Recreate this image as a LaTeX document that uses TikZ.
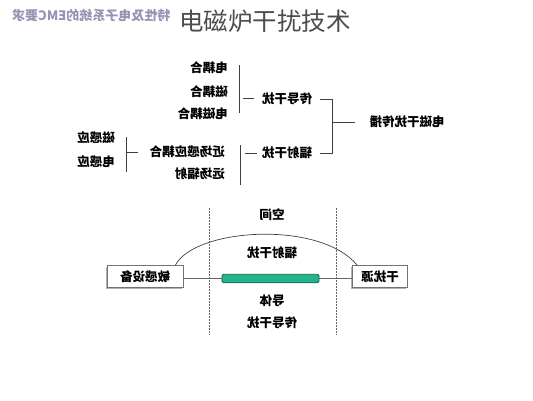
\documentclass[tikz,border=0pt]{standalone}
\usepackage{graphicx}
\usepackage{fontspec}
\usepackage{tikz}
\usetikzlibrary{shadows}
\newfontfamily\cjk{Noto Sans CJK SC}
\newcommand{\mirtext}[1]{\reflectbox{#1}}
\definecolor{barfill}{HTML}{22B48C}
\definecolor{bardraw}{HTML}{1D5E4C}
\definecolor{markcol}{HTML}{9494B4}

\begin{document}
\begin{tikzpicture}[
  x=1pt, y=-1pt,
  lbl/.style={font=\cjk\bfseries\fontsize{12.5}{14}\selectfont, inner sep=0pt},
  link/.style={draw=black!75, line width=0.8pt},
  devbox/.style={rectangle, draw=black!55, fill=white, line width=0.8pt,
    minimum height=22pt, inner sep=0pt,
    drop shadow={shadow xshift=-1.5pt, shadow yshift=-1.5pt, fill=black!30, opacity=1},
    font=\cjk\bfseries\fontsize{12.5}{14}\selectfont},
  border/.style={draw=black!60, line width=0.8pt, dash pattern=on 1.5pt off 1.5pt}
]
  \useasboundingbox (0,0) rectangle (533,400);

  % header
  \node[font=\cjk\bfseries\fontsize{13}{15}\selectfont, text=markcol, anchor=west, inner sep=0pt] (mark) at (12,16) {\mirtext{特性及电子系统的EMC要求}};
  \node[font=\cjk\fontsize{24.5}{27}\selectfont, text=black!70, inner sep=0pt] (title) at (265,21) {电磁炉干扰技术};

  % classification tree
  \node[lbl] (prop) at (407,122) {\mirtext{电磁干扰传播}};
  \node[lbl] (cond) at (287,99) {\mirtext{传导干扰}};
  \node[lbl] (rad) at (287,153) {\mirtext{辐射干扰}};
  \node[lbl, anchor=east] (ec) at (228,68) {\mirtext{电耦合}};
  \node[lbl, anchor=east] (mc) at (228,92) {\mirtext{磁耦合}};
  \node[lbl, anchor=east] (emc) at (228,114) {\mirtext{电磁耦合}};
  \node[lbl, anchor=east] (near) at (225,152) {\mirtext{近场感应耦合}};
  \node[lbl, anchor=east] (far) at (225,174) {\mirtext{远场辐射}};
  \node[lbl, anchor=east] (mi) at (115,138) {\mirtext{磁感应}};
  \node[lbl, anchor=east] (ei) at (115,162) {\mirtext{电感应}};

  \coordinate (mainT) at (332,99);
  \coordinate (mainB) at (332,153);
  \coordinate (mainM) at (332,122);
  \draw[link] (320,99) -- (mainT) -- (mainB) -- (320,153);
  \draw[link] (mainM) -- (355,122);

  \draw[link] (243,98) -- (254,98);
  \draw[link] (239,65) -- (239,113);
  \draw[link] (245,153) -- (257,153);
  \draw[link] (240,145) -- (240,185);
  \draw[link] (127,152) -- (138,152);
  \draw[link] (126,137) -- (126,172);

  % propagation paths
  \draw[border] (209,208) -- (209,335);
  \draw[border] (336,208) -- (336,335);

  \node[lbl] (space) at (272,215) {\mirtext{空间}};
  \node[lbl] (radpath) at (272,253) {\mirtext{辐射干扰}};
  \node[lbl] (wire) at (272,301) {\mirtext{导体}};
  \node[lbl] (condpath) at (272,323) {\mirtext{传导干扰}};

  \node[devbox, minimum width=76pt] (sens) at (145,276.5) {\mirtext{敏感设备}};
  \node[devbox, minimum width=55pt] (src) at (380,276.5) {\mirtext{干扰源}};

  \draw[draw=black!60, line width=1pt] (sens.east |- 0,278) -- (src.west |- 0,278);
  \node[rectangle, rounded corners=1.5pt, fill=barfill, draw=bardraw, line width=0.8pt,
    minimum width=97pt, minimum height=8.5pt, inner sep=0pt] (bar) at (270.5,278.5) {};

  \draw[link, line width=0.7pt] ([xshift=-8pt]sens.north east) .. controls (195,228) and (320,220) .. ([xshift=5pt]src.north west);
\end{tikzpicture}
\end{document}
